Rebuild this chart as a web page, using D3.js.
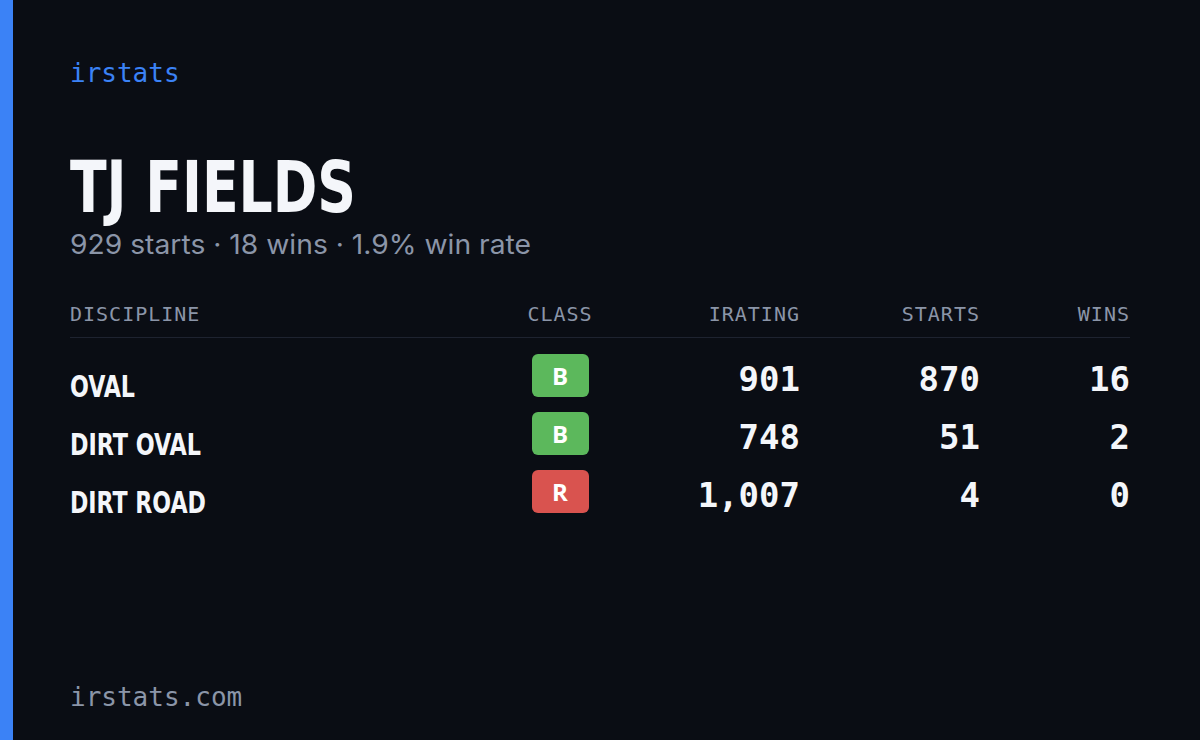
<!DOCTYPE html>
<html><head><meta charset="utf-8">
<script src="https://cdn.jsdelivr.net/npm/d3@7"></script>
<style>body{margin:0;background:#0a0d14;}</style>
</head><body>
<svg id="c" width="1200" height="740"></svg>
<script>
const disciplines = ["OVAL", "DIRT OVAL", "DIRT ROAD"];
const classes = ["B", "B", "R"];
const iratings = [901, 748, 1007];
const starts = [870, 51, 4];
const wins = [16, 2, 0];
const totalStarts = 929, totalWins = 18, winRate = 1.9;
const headers = ["DISCIPLINE", "CLASS", "IRATING", "STARTS", "WINS"];
const classColors = {B: "#5cb85c", R: "#d9534f"};

const svg = d3.select("#c");
svg.append("rect").attr("width",1200).attr("height",740).attr("fill","#0a0d14");
svg.append("rect").attr("width",13).attr("height",740).attr("fill","#3b82f6");
const mono = "'DejaVu Sans Mono', monospace";
const cond = "'DejaVu Sans Condensed',sans-serif";
svg.append("text").attr("x",70).attr("y",82).text("irstats").attr("fill","#3b82f6").attr("font-family",mono).attr("font-size",26);
svg.append("text").attr("x",70).attr("y",212).text("TJ FIELDS").attr("fill","#f4f6fa").attr("font-family",cond).attr("font-weight","bold").attr("font-size",72).attr("textLength",286).attr("lengthAdjust","spacingAndGlyphs");
svg.append("text").attr("x",70).attr("y",254).text(`${totalStarts} starts · ${totalWins} wins · ${winRate}% win rate`).attr("fill","#8b95a8").attr("font-family","Inter,sans-serif").attr("font-size",27).attr("textLength",461).attr("lengthAdjust","spacingAndGlyphs");

const colX = [70, 560, 800, 980, 1130];
const anchors = ["start","middle","end","end","end"];
headers.forEach((h,i)=>svg.append("text").attr("x",colX[i]).attr("y",321).attr("text-anchor",anchors[i]).text(h).attr("fill","#8b95a8").attr("font-family",mono).attr("font-size",20).attr("letter-spacing",1));
svg.append("line").attr("x1",70).attr("x2",1130).attr("y1",337.5).attr("y2",337.5).attr("stroke","#1e2330");

const y = d3.scaleBand().domain(d3.range(disciplines.length)).range([346,520]);
const fmt = d3.format(",");
const nameW = [65, 131, 136];
const rows = svg.selectAll("g.r").data(disciplines).join("g").attr("transform",(d,i)=>`translate(0,${y(i)})`);
rows.append("text").attr("x",70).attr("y",51).text(d=>d).attr("fill","#f4f6fa").attr("font-family",cond).attr("font-weight","bold").attr("font-size",31).attr("textLength",(d,i)=>nameW[i]).attr("lengthAdjust","spacingAndGlyphs");
rows.append("rect").attr("x",532).attr("y",8).attr("width",57).attr("height",43).attr("rx",6).attr("fill",(d,i)=>classColors[classes[i]]);
rows.append("text").attr("x",560).attr("y",39).attr("text-anchor","middle").text((d,i)=>classes[i]).attr("fill","#fff").attr("font-family","'Open Sans',sans-serif").attr("font-weight","bold").attr("font-size",24);
[[iratings,2],[starts,3],[wins,4]].forEach(([arr,c])=>{
  rows.append("text").attr("x",colX[c]).attr("y",45).attr("text-anchor","end").text((d,i)=>fmt(arr[i])).attr("fill","#f4f6fa").attr("font-family",mono).attr("font-weight","bold").attr("font-size",34);
});
svg.append("text").attr("x",70).attr("y",706).text("irstats.com").attr("fill","#8b95a8").attr("font-family",mono).attr("font-size",26);
</script></body></html>
